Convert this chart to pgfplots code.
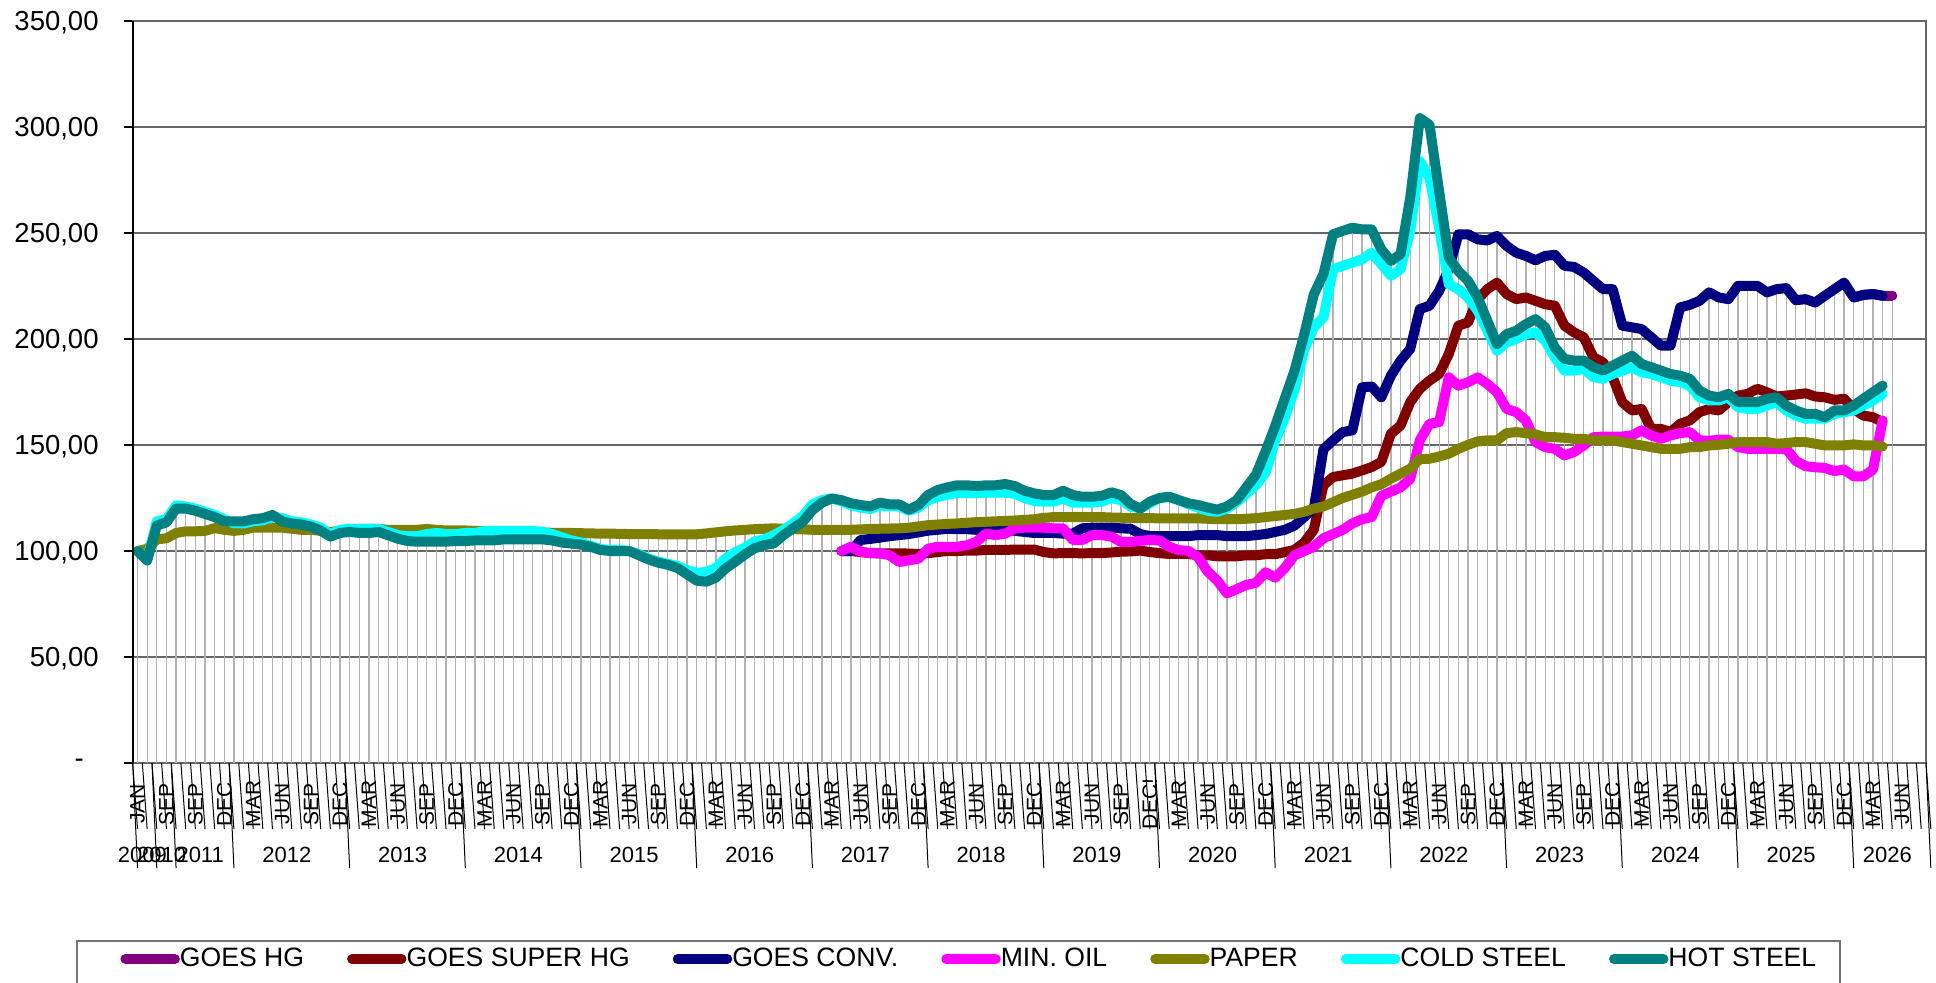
\documentclass[border=0pt]{standalone}
\usepackage{fontspec}
\setmainfont{Liberation Sans}
\usepackage{pgfplots}
\usepackage{pgfplotstable}
\pgfplotsset{compat=1.18}
\definecolor{cHG}{HTML}{800080}
\definecolor{cSHG}{HTML}{800000}
\definecolor{cCONV}{HTML}{000080}
\definecolor{cOIL}{HTML}{FF00FF}
\definecolor{cPAPER}{HTML}{808000}
\definecolor{cCOLD}{HTML}{00FFFF}
\definecolor{cHOT}{HTML}{008080}
\pgfplotstableread[row sep=\\]{
i hot cold paper conv shg oil hg\\
0 100 100 100 nan nan nan nan\\
1 95.5 96 101 nan nan nan nan\\
2 112 114 105.5 nan nan nan nan\\
3 113.5 115 106 nan nan nan nan\\
4 120 121.5 108.5 nan nan nan nan\\
5 120 121 109.3 nan nan nan nan\\
6 119 120 109.3 nan nan nan nan\\
7 117.5 118.5 109.5 nan nan nan nan\\
8 116 117 110.8 nan nan nan nan\\
9 114 115 110 nan nan nan nan\\
10 114 113 109.5 nan nan nan nan\\
11 114 113 110 nan nan nan nan\\
12 115 114 111 nan nan nan nan\\
13 115.5 114.5 111 nan nan nan nan\\
14 117 116 111 nan nan nan nan\\
15 114 115.5 111 nan nan nan nan\\
16 113 114 110.5 nan nan nan nan\\
17 112.5 113.5 110 nan nan nan nan\\
18 111.5 112.5 110 nan nan nan nan\\
19 109.6 111 109.5 nan nan nan nan\\
20 106.8 108 109 nan nan nan nan\\
21 108.5 110 109.5 nan nan nan nan\\
22 109 110.5 110 nan nan nan nan\\
23 108.5 110.5 110.4 nan nan nan nan\\
24 108.5 110.5 110.4 nan nan nan nan\\
25 109 110.5 110.4 nan nan nan nan\\
26 107.4 109 110 nan nan nan nan\\
27 105.8 107.5 110 nan nan nan nan\\
28 104.7 107 110 nan nan nan nan\\
29 104.4 107 110 nan nan nan nan\\
30 104.4 108 110.4 nan nan nan nan\\
31 104.4 108.5 110 nan nan nan nan\\
32 104.4 108 109.7 nan nan nan nan\\
33 104.7 108 109.7 nan nan nan nan\\
34 104.7 108.5 109.7 nan nan nan nan\\
35 105 108.5 109.5 nan nan nan nan\\
36 105 109.5 109.3 nan nan nan nan\\
37 105 109.5 109.2 nan nan nan nan\\
38 105.5 109.5 109 nan nan nan nan\\
39 105.5 109.5 109 nan nan nan nan\\
40 105.5 109.5 108.8 nan nan nan nan\\
41 105.5 109.5 108.8 nan nan nan nan\\
42 105.5 109 108.7 nan nan nan nan\\
43 105 108 108.6 nan nan nan nan\\
44 104 106.5 108.5 nan nan nan nan\\
45 103.5 105 108.5 nan nan nan nan\\
46 103 104 108.4 nan nan nan nan\\
47 102 102.5 108.3 nan nan nan nan\\
48 100.5 101 108.2 nan nan nan nan\\
49 100 100.5 108.2 nan nan nan nan\\
50 100 100.5 108.1 nan nan nan nan\\
51 100 100 108 nan nan nan nan\\
52 98 98.5 108 nan nan nan nan\\
53 96 96.5 108 nan nan nan nan\\
54 94.5 95 107.9 nan nan nan nan\\
55 93.5 94 107.9 nan nan nan nan\\
56 92 93 107.9 nan nan nan nan\\
57 89 91 107.9 nan nan nan nan\\
58 86 89.6 107.9 nan nan nan nan\\
59 85.5 90.2 108.3 nan nan nan nan\\
60 87.5 92 108.8 nan nan nan nan\\
61 91.8 96.5 109.3 nan nan nan nan\\
62 95 99.5 109.7 nan nan nan nan\\
63 98.4 101.5 110 nan nan nan nan\\
64 101.3 104.5 110.3 nan nan nan nan\\
65 102.8 105.5 110.5 nan nan nan nan\\
66 103.6 107.5 110.7 nan nan nan nan\\
67 107.5 110 110.5 nan nan nan nan\\
68 110.7 113 110.3 nan nan nan nan\\
69 113.8 116.5 110.2 nan nan nan nan\\
70 119.3 122 110 nan nan nan nan\\
71 122.8 124 110 nan nan nan nan\\
72 124.8 124.8 110 nan nan nan nan\\
73 124 123.5 110 100 100 100 nan\\
74 122.5 121.5 110 100 100 102 nan\\
75 121.7 120.5 110.2 105.2 99.5 99.7 nan\\
76 121 119.8 110.4 105.7 99 99 nan\\
77 122.8 121.5 110.5 106.3 98.9 98.9 nan\\
78 122 121 110.6 107 98.9 98 nan\\
79 122 121 110.7 107.5 98.9 94.8 nan\\
80 119.5 119 111 108 98.8 95.6 nan\\
81 121.7 120.5 111.6 108.8 98.6 96.4 nan\\
82 126.4 124 112.2 109.6 99 101.1 nan\\
83 128.8 125.5 112.5 110 99.5 102 nan\\
84 130 126.5 112.8 110.5 100 102 nan\\
85 131 127.3 113 110.3 100 102 nan\\
86 131 127.3 113.3 110.3 100.2 102.7 nan\\
87 130.6 127.3 113.6 110 100.2 104.3 nan\\
88 131 127.5 113.8 110 100.5 108.2 nan\\
89 131 127.5 114 110 100.5 107.5 nan\\
90 131.6 127.5 114.2 110 100.5 108.2 nan\\
91 130.6 127 114.4 109.5 100.7 110.7 nan\\
92 128.4 125 114.7 109 100.7 111 nan\\
93 127.2 123.5 115 108.5 100.7 111 nan\\
94 126.4 123.3 115.6 108.5 99.5 111 nan\\
95 126.4 123.3 116 108.5 98.9 110.7 nan\\
96 128.4 124.8 116 108.2 99 110.7 nan\\
97 126.4 122.8 116 108.2 99 105.2 nan\\
98 125.6 122.8 116 110.7 98.9 105.2 nan\\
99 125.6 122.8 116 111 99 107.5 nan\\
100 126 123.3 116 111 99 107.5 nan\\
101 127.7 125 115.8 111 99.3 106.8 nan\\
102 126.4 124 115.7 110.7 99.7 104.3 nan\\
103 122.2 121 115.6 110.5 99.8 104.3 nan\\
104 120 120 115.5 108 100.2 104.8 nan\\
105 123.3 122.5 115.5 107 99.5 105.2 nan\\
106 125 125 115.4 107 99 105 nan\\
107 125.6 125.5 115.4 107 98.6 102 nan\\
108 124 124 115.4 107 98.6 100.4 nan\\
109 122.5 122 115.4 107 98.6 100.1 nan\\
110 121.7 120.5 115.4 107.5 98 97 nan\\
111 120.5 119 115.2 107.5 98 90.3 nan\\
112 119.5 118.5 115 107.5 97.5 86 nan\\
113 121 120 115 107 97.5 80 nan\\
114 124 123 115 107 97.5 82 nan\\
115 130 127 115.2 107 98 84 nan\\
116 136 131 115.5 107.5 98 85 nan\\
117 147 137 116 108 98.5 90 nan\\
118 159 152 116.5 109 98.5 87.4 nan\\
119 172 163 117 110 99.5 92 nan\\
120 185 176 117.5 112 100.5 98 nan\\
121 202 195 118.5 116 104 100 nan\\
122 221 205.5 120 120 110 102 nan\\
123 230.6 210.2 121 148 131 106 nan\\
124 249.4 232.9 123 152.2 134.9 108 nan\\
125 251 234.5 125 156.1 135.7 110 nan\\
126 252.5 236 126.5 156.9 136.5 113 nan\\
127 251.7 237.6 128 177.2 138 115 nan\\
128 251.7 240.7 130 177.6 139.6 116 nan\\
129 242.3 235.3 131.5 172.5 142 126 nan\\
130 236.8 229.8 134.1 182.7 155.3 128 nan\\
131 240 232.9 136.5 189.8 159.2 130 nan\\
132 266.6 251 138.8 195.3 170.2 134 nan\\
133 304.2 283.9 143.5 214.1 176.5 152.2 nan\\
134 301 276 143.5 215.7 180.4 160 nan\\
135 269.8 252.5 144.6 222.7 183.5 160.8 nan\\
136 238.4 225.9 145.9 232.9 192.9 181.9 nan\\
137 232 223.5 148.2 249.4 206.3 178 nan\\
138 227.4 219.6 150.1 249.4 207.8 179.6 nan\\
139 219.6 213.3 151.7 247 218.8 181.9 nan\\
140 208.6 203.9 152.2 246.5 223.5 178.8 nan\\
141 197.6 194.5 152.2 248.6 226.6 174.9 nan\\
142 202.3 198.4 155.6 243.9 221.2 167 nan\\
143 203.9 200 156.1 240.7 218.8 165.5 nan\\
144 207 202.3 155.6 239.2 219.6 161.6 nan\\
145 209.4 203.1 155 237.1 218 151.4 nan\\
146 205.5 199.2 153.7 239.2 216.4 149 nan\\
147 196 191.4 153.7 239.7 215.7 148.2 nan\\
148 190.6 185.1 153.4 234.5 206.3 145.1 nan\\
149 189.8 185.1 152.9 234 203.1 146.7 nan\\
150 189.8 185.9 152.9 231.3 200.8 149.8 nan\\
151 186.7 182 152.2 227.4 191.4 153.7 nan\\
152 185.1 181.2 152.2 223.5 189 154 nan\\
153 187.4 183.5 152.2 223.5 182 154 nan\\
154 189.8 185.1 151.4 206.3 170.2 154 nan\\
155 192.1 186.7 150.6 205.5 166.3 154.5 nan\\
156 188.2 184.3 149.8 204.7 167 156.9 nan\\
157 186.7 183.5 149 200.8 157.6 154.5 nan\\
158 185.1 182 148.2 196.9 157.6 152.9 nan\\
159 183.5 180.4 148.2 196.9 156.1 154.5 nan\\
160 182.7 179.6 148.2 214.9 160 155.6 nan\\
161 181.2 178 149 216.1 161.6 156.1 nan\\
162 175.7 172.5 149 218 165.5 152.2 nan\\
163 173.3 171 149.8 222 167 152 nan\\
164 172.5 171 150.1 219.6 166.3 152.5 nan\\
165 174.1 172.5 150.6 218.8 170.2 152.5 nan\\
166 170.2 167.8 151.4 225.1 173.3 149 nan\\
167 170.2 167 151.4 225.1 174.1 148.2 nan\\
168 170.2 167 151.4 225.1 176.5 148.2 nan\\
169 171.8 168.6 151.4 222 174.9 148.2 nan\\
170 172.5 170.2 150.6 223.5 172.9 148.2 nan\\
171 168.6 166.3 150.9 224 173.3 148.2 nan\\
172 166.3 163.9 151.4 218.3 173.8 142.5 nan\\
173 164.7 162.4 151.4 218.8 174.4 140 nan\\
174 164.7 162.4 150.6 217.2 172.9 139.5 nan\\
175 163.1 162.4 149.8 220.4 172.5 139.2 nan\\
176 166.3 164.7 149.8 223.5 171.3 137.7 nan\\
177 166.3 165.5 149.8 226.6 171.8 138.4 nan\\
178 168.6 166.3 150.3 219.6 167 135.2 219.6\\
179 171.8 168.6 149.8 220.8 163.9 135.2 220.8\\
180 174.9 171 149.8 221.2 163.1 138.4 221.2\\
181 178 174.1 149.3 220.4 160.8 161.6 220.4\\
182 nan nan nan nan nan nan 220.4\\
}\data
\begin{document}
\begin{tikzpicture}
\begin{axis}[
  at={(0,0)}, anchor=south west,
  width=896.65pt, height=371pt, scale only axis,
  xmin=-0.5, xmax=185.5, ymin=0, ymax=350,
  clip=false,
  axis line style={black!60, line width=1pt},
  ytick={0,50,...,350},
  yticklabels={{-\hspace*{7.4pt}},{50,00},{100,00},{150,00},{200,00},{250,00},{300,00},{350,00}},
  ymajorgrids, major grid style={black!60, line width=0.7pt},
  ytick pos=left, tick align=outside, major tick length=4.5pt,
  y tick style={black, line width=0.7pt},
  yticklabel style={font=\fontsize{13.75}{16}\selectfont, anchor=east, inner sep=0pt, text depth=0pt},
  yticklabel shift=12.35pt,
  xtick={0,3,...,183},
  xticklabels={JAN,SEP,SEP,DEC,
    MAR,JUN,SEP,DEC,MAR,JUN,SEP,DEC,MAR,JUN,SEP,DEC,MAR,JUN,SEP,DEC,
    MAR,JUN,SEP,DEC,MAR,JUN,SEP,DEC,MAR,JUN,SEP,DEC,MAR,JUN,SEP,DEC!,
    MAR,JUN,SEP,DEC,MAR,JUN,SEP,DEC,MAR,JUN,SEP,DEC,MAR,JUN,SEP,DEC,
    MAR,JUN,SEP,DEC,MAR,JUN,SEP,DEC,MAR,JUN},
  x tick style={draw=none},
  xticklabel style={font=\fontsize{10.5}{11}\selectfont, rotate=90, anchor=center, inner sep=0pt},
  xticklabel shift=16pt,
  legend columns=7,
  legend style={at={(axis description cs:-0.00708,-0.2642)}, anchor=west,
    draw=none, fill=none, inner sep=0pt, row sep=0pt,
    font=\fontsize{13.3}{16}\selectfont,
    /tikz/every even column/.append style={column sep=21.5pt},
    nodes={inner sep=0pt}},
  legend image code/.code={\path (0pt,0pt) -- (24.75pt,0pt); \draw[#1] (2.5pt,0pt) -- (19pt,0pt);},
]
\foreach \c in {hot,cold,paper,conv,shg,oil,hg}{
  \addplot[ycomb, draw=gray!60, line width=0.6pt, forget plot] table[x=i,y=\c]{\data};
}
\addplot[cHG, line width=5pt, line join=round, line cap=round] table[x=i,y=hg]{\data};
\addlegendentry{GOES HG}
\addplot[cSHG, line width=5pt, line join=round, line cap=round] table[x=i,y=shg]{\data};
\addlegendentry{GOES SUPER HG}
\addplot[cCONV, line width=5pt, line join=round, line cap=round] table[x=i,y=conv]{\data};
\addlegendentry{GOES CONV.}
\addplot[cOIL, line width=5pt, line join=round, line cap=round] table[x=i,y=oil]{\data};
\addlegendentry{MIN. OIL}
\addplot[cPAPER, line width=5pt, line join=round, line cap=round] table[x=i,y=paper]{\data};
\addlegendentry{PAPER}
\addplot[cCOLD, line width=5pt, line join=round, line cap=round] table[x=i,y=cold]{\data};
\addlegendentry{COLD STEEL}
\addplot[cHOT, line width=5pt, line join=round, line cap=round] table[x=i,y=hot]{\data};
\addlegendentry{HOT STEEL}
\pgfplotsinvokeforeach{-0.5,0.5,...,185.5}{
  \draw[black, line width=0.5pt] (axis cs:#1,0) -- ++(0,-33pt);
}
\pgfplotsinvokeforeach{-0.5,1.5,3.5,9.5,21.5,33.5,45.5,57.5,69.5,81.5,93.5,105.5,117.5,129.5,141.5,153.5,165.5,177.5,185.5}{
  \draw[black, line width=0.5pt] (axis cs:#1,0) -- ++(0,-52.5pt);
}
\draw[black, line width=1pt] (axis cs:-0.5,0) -- (axis cs:-0.5,350);
\begin{scope}[every node/.style={font=\fontsize{11}{12}\selectfont, anchor=center, inner sep=0pt}]
\node at (axis cs:0.5,0) [yshift=-46pt] {2009};
\node at (axis cs:2.5,0) [yshift=-46pt] {2010};
\node at (axis cs:6.5,0) [yshift=-46pt] {2011};
\node at (axis cs:15.5,0) [yshift=-46pt] {2012};
\node at (axis cs:27.5,0) [yshift=-46pt] {2013};
\node at (axis cs:39.5,0) [yshift=-46pt] {2014};
\node at (axis cs:51.5,0) [yshift=-46pt] {2015};
\node at (axis cs:63.5,0) [yshift=-46pt] {2016};
\node at (axis cs:75.5,0) [yshift=-46pt] {2017};
\node at (axis cs:87.5,0) [yshift=-46pt] {2018};
\node at (axis cs:99.5,0) [yshift=-46pt] {2019};
\node at (axis cs:111.5,0) [yshift=-46pt] {2020};
\node at (axis cs:123.5,0) [yshift=-46pt] {2021};
\node at (axis cs:135.5,0) [yshift=-46pt] {2022};
\node at (axis cs:147.5,0) [yshift=-46pt] {2023};
\node at (axis cs:159.5,0) [yshift=-46pt] {2024};
\node at (axis cs:171.5,0) [yshift=-46pt] {2025};
\node at (axis cs:181.5,0) [yshift=-46pt] {2026};
\end{scope}
\end{axis}
\draw[black!55, line width=1pt] (-28.05pt,-125pt) -- (-28.05pt,-89pt) -- (853.65pt,-89pt) -- (853.65pt,-125pt);
\pgfresetboundingbox
\path[use as bounding box] (-66.35pt,-109.5pt) rectangle (901.65pt,381.5pt);
\end{tikzpicture}
\end{document}
